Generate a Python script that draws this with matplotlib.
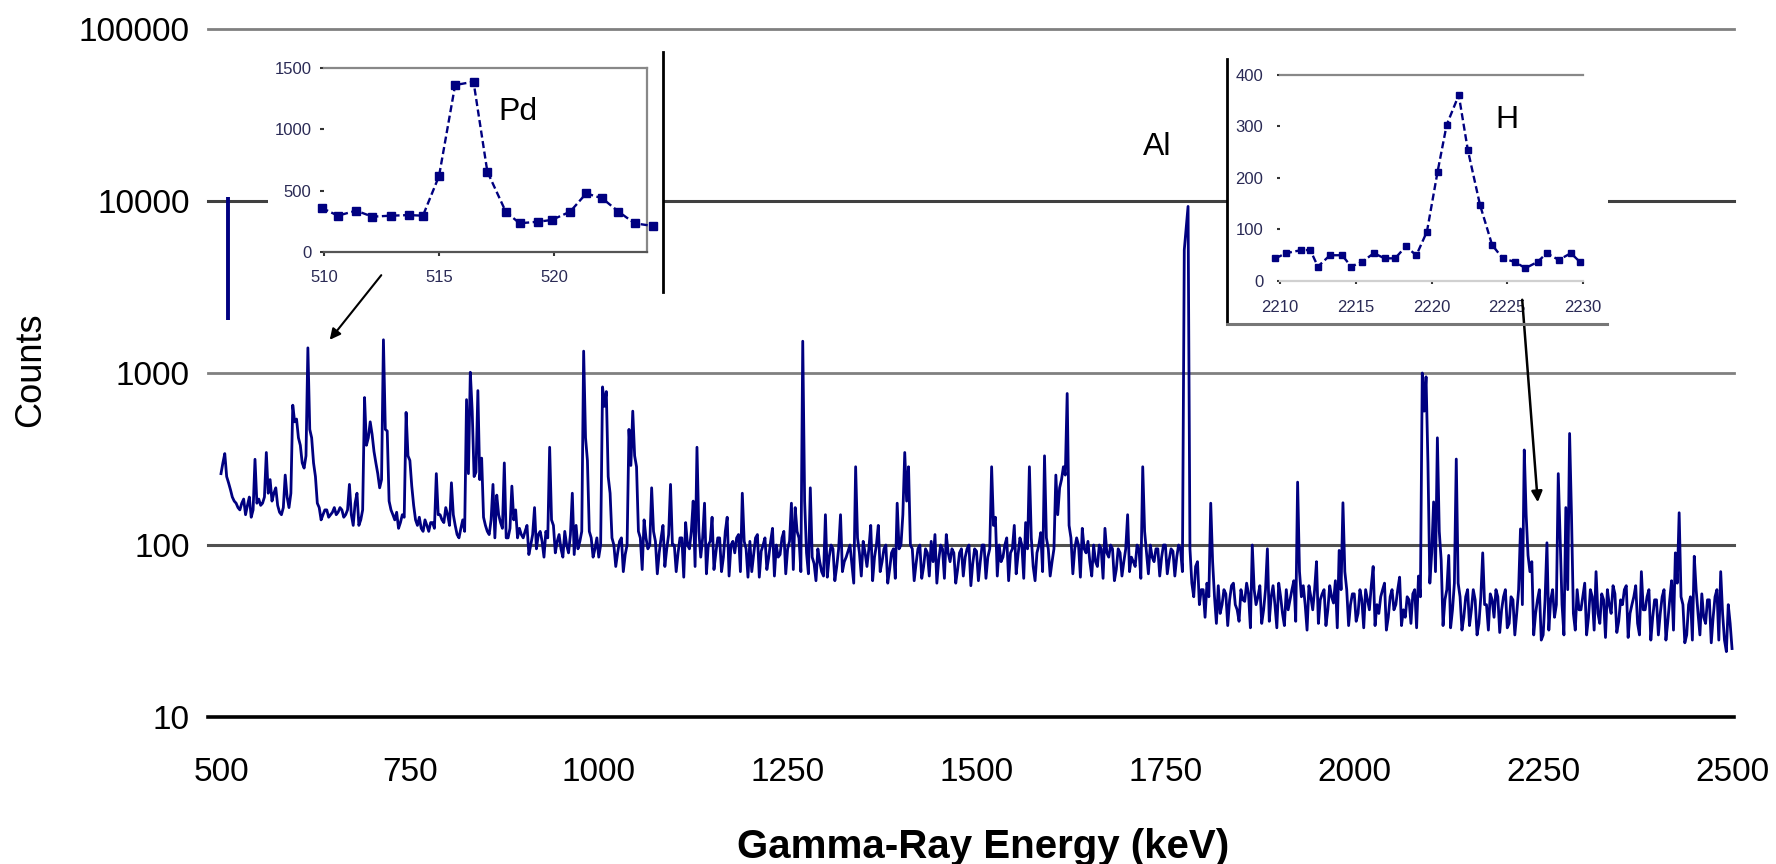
import numpy as np
import matplotlib
matplotlib.use('Agg')
import matplotlib.pyplot as plt
from matplotlib.lines import Line2D
from matplotlib.patches import FancyArrowPatch

plt.rcParams['font.family'] = ['Liberation Sans', 'DejaVu Sans']

# ---------------- data ----------------
# main spectrum: counts on a 5 keV grid starting at 500 keV (one list per 100 keV)
energy_start = 500
energy_step = 5
c500 = [260, 340, 230, 190, 175, 160, 185, 170, 145, 315, 185, 175, 345, 240, 200, 170, 150, 255, 165, 650]
c600 = [540, 380, 280, 1400, 420, 250, 165, 150, 160, 150, 165, 155, 160, 150, 225, 130, 200, 140, 720, 420]
c700 = [440, 300, 215, 1560, 460, 160, 140, 125, 150, 590, 310, 170, 130, 125, 140, 120, 135, 260, 150, 135]
c800 = [150, 230, 130, 110, 140, 700, 1010, 250, 790, 320, 130, 115, 225, 195, 135, 300, 110, 220, 160, 125]
c900 = [110, 130, 100, 165, 115, 105, 120, 370, 130, 105, 95, 120, 90, 200, 130, 105, 1340, 310, 110, 95]
c1000 = [85, 830, 780, 200, 100, 90, 110, 88, 470, 600, 285, 110, 140, 95, 215, 105, 90, 130, 95, 225]
c1100 = [100, 90, 110, 135, 95, 180, 370, 85, 175, 100, 145, 90, 110, 85, 145, 100, 90, 115, 200, 95]
c1200 = [105, 88, 115, 92, 110, 85, 125, 100, 88, 120, 95, 175, 165, 110, 1530, 90, 215, 78, 95, 70]
c1300 = [150, 85, 95, 75, 150, 80, 92, 78, 285, 90, 105, 75, 130, 85, 130, 80, 100, 72, 95, 175]
c1400 = [100, 345, 285, 95, 78, 100, 75, 90, 105, 115, 82, 95, 115, 80, 90, 72, 95, 85, 100, 78]
c1500 = [92, 80, 100, 85, 285, 145, 100, 85, 110, 90, 130, 88, 100, 135, 285, 75, 90, 118, 330, 95]
c1600 = [80, 255, 215, 285, 760, 110, 95, 100, 125, 90, 80, 100, 75, 95, 125, 85, 95, 72, 90, 80]
c1700 = [150, 85, 75, 95, 285, 90, 100, 80, 95, 85, 100, 82, 92, 85, 95, 5200, 9300, 60, 75, 45]
c1800 = [55, 60, 175, 50, 58, 45, 52, 48, 60, 42, 55, 47, 52, 100, 45, 58, 42, 95, 50, 45]
c1900 = [60, 40, 55, 48, 62, 232, 50, 45, 58, 42, 80, 48, 55, 42, 50, 62, 93, 176, 55, 45]
c2000 = [52, 40, 48, 55, 42, 75, 45, 50, 60, 38, 55, 45, 65, 42, 50, 35, 55, 66, 1000, 950]
c2100 = [60, 178, 420, 82, 48, 87, 42, 316, 50, 38, 55, 42, 48, 35, 90, 45, 52, 38, 50, 42]
c2200 = [55, 35, 48, 40, 124, 357, 87, 80, 40, 55, 30, 103, 48, 38, 260, 45, 165, 445, 40, 55]
c2300 = [42, 60, 38, 50, 70, 35, 48, 55, 40, 52, 36, 45, 58, 40, 50, 35, 70, 42, 55, 38]
c2400 = [48, 40, 55, 36, 62, 90, 154, 45, 30, 50, 86, 40, 52, 35, 48, 38, 55, 70, 28, 45]
c2500 = [25]

# the channels in between (502.5 keV + 5 keV steps)
mid_start = 502.5
m500 = [300, 250, 210, 180, 165, 175, 150, 190, 160, 175, 170, 190, 200, 180, 215, 155, 165, 190, 200, 520]
m600 = [420, 300, 330, 470, 300, 175, 140, 160, 145, 155, 150, 165, 145, 160, 150, 175, 130, 160, 380, 520]
m700 = [350, 260, 240, 470, 180, 150, 155, 135, 145, 330, 220, 140, 145, 120, 130, 135, 125, 150, 140, 165]
m800 = [130, 150, 115, 125, 120, 260, 600, 265, 240, 145, 120, 140, 110, 150, 125, 110, 125, 140, 110, 115]
m900 = [120, 88, 115, 95, 120, 85, 110, 140, 90, 115, 85, 100, 115, 88, 95, 120, 420, 120, 85, 110]
m1000 = [100, 640, 250, 110, 75, 105, 70, 100, 290, 330, 120, 72, 110, 100, 120, 68, 110, 75, 115, 100]
m1100 = [70, 110, 65, 100, 120, 75, 120, 110, 68, 105, 72, 110, 70, 120, 66, 105, 110, 70, 105, 65]
m1200 = [70, 110, 65, 100, 72, 105, 66, 85, 110, 68, 105, 72, 120, 70, 180, 68, 85, 62, 80, 66]
m1300 = [65, 100, 62, 95, 70, 85, 100, 60, 110, 66, 90, 95, 62, 100, 70, 95, 60, 90, 64, 95]
m1400 = [150, 180, 100, 62, 95, 64, 95, 66, 80, 60, 100, 64, 90, 95, 60, 90, 66, 95, 58, 95]
m1500 = [62, 100, 64, 95, 130, 66, 80, 100, 62, 95, 68, 110, 64, 95, 110, 62, 100, 70, 110, 66]
m1600 = [95, 150, 240, 255, 130, 68, 110, 65, 95, 105, 66, 80, 100, 64, 90, 100, 62, 95, 66, 95]
m1700 = [70, 80, 100, 64, 120, 68, 85, 95, 66, 100, 68, 95, 66, 100, 70, 7000, 95, 50, 80, 55]
m1800 = [38, 50, 80, 35, 40, 55, 34, 58, 45, 36, 48, 60, 33, 55, 50, 35, 55, 36, 58, 33]
m1900 = [50, 34, 42, 55, 36, 70, 58, 32, 50, 55, 35, 52, 34, 58, 46, 33, 55, 70, 34, 52]
m2000 = [36, 55, 33, 48, 58, 34, 40, 55, 32, 50, 42, 55, 34, 38, 48, 52, 33, 50, 600, 300]
m2100 = [90, 70, 120, 34, 55, 33, 60, 60, 32, 50, 34, 55, 30, 50, 45, 32, 48, 55, 31, 50]
m2200 = [33, 50, 30, 55, 45, 150, 70, 30, 48, 28, 48, 32, 55, 45, 110, 30, 55, 150, 32, 42]
m2300 = [50, 30, 55, 32, 40, 52, 29, 45, 58, 31, 48, 55, 29, 45, 58, 30, 42, 50, 28, 48]
m2400 = [30, 50, 28, 48, 32, 60, 50, 27, 45, 28, 55, 30, 38, 48, 27, 50, 28, 40, 24, 35]

# 511 keV annihilation line (drawn as its own stroke)
annih_E = [509, 509]
annih_c = [2040, 10500]

x_ticks = [500, 750, 1000, 1250, 1500, 1750, 2000, 2250, 2500]
y_ticks = [10, 100, 1000, 10000, 100000]
y_tick_labels = ['10', '100', '1000', '10000', '100000']

# Pd inset
pd_E = [509.9, 510.6, 511.4, 512.1, 512.9, 513.7, 514.3, 515.0, 515.7, 516.5, 517.1,
        517.9, 518.5, 519.3, 519.9, 520.7, 521.4, 522.1, 522.8, 523.5, 524.3]
pd_c = [360, 296, 337, 288, 296, 301, 296, 619, 1361, 1388, 655,
        329, 234, 247, 261, 329, 478, 437, 329, 234, 212]
pd_xticks = [510, 515, 520]
pd_yticks = [0, 500, 1000, 1500]

# H inset
h_E = [2209.7, 2210.4, 2211.4, 2212.0, 2212.5, 2213.3, 2214.1, 2214.7, 2215.4, 2216.2,
       2216.9, 2217.6, 2218.3, 2219.0, 2219.7, 2220.4, 2221.0, 2221.8, 2222.4, 2223.2,
       2224.0, 2224.7, 2225.5, 2226.2, 2227.0, 2227.6, 2228.4, 2229.2, 2229.8]
h_c = [44, 54, 60, 60, 28, 50, 50, 28, 37, 54,
       44, 44, 67, 50, 96, 212, 303, 361, 254, 148,
       70, 44, 37, 25, 37, 54, 41, 54, 37]
h_xticks = [2210, 2215, 2220, 2225, 2230]
h_yticks = [0, 100, 200, 300, 400]

grid_counts = np.array(c500 + c600 + c700 + c800 + c900 + c1000 + c1100 + c1200 + c1300 + c1400 +
                       c1500 + c1600 + c1700 + c1800 + c1900 + c2000 + c2100 + c2200 + c2300 +
                       c2400 + c2500, dtype=float)
mid_counts = np.array(m500 + m600 + m700 + m800 + m900 + m1000 + m1100 + m1200 + m1300 + m1400 +
                      m1500 + m1600 + m1700 + m1800 + m1900 + m2000 + m2100 + m2200 + m2300 +
                      m2400, dtype=float)
grid_E = energy_start + energy_step * np.arange(len(grid_counts))
mid_E = mid_start + energy_step * np.arange(len(mid_counts))
energy = np.concatenate([grid_E, mid_E])
counts = np.concatenate([grid_counts, mid_counts])
order = np.argsort(energy)
energy, counts = energy[order], counts[order]

# ---------------- figure ----------------
W, H = 1776, 864
fig = plt.figure(figsize=(W / 100, H / 100), dpi=100)


def rect(x0, y0, x1, y1):
    return [x0 / W, 1 - y1 / H, (x1 - x0) / W, (y1 - y0) / H]


navy = '#000080'

ax = fig.add_axes(rect(208, 29, 1734, 717))
ax.set_yscale('log')
ax.set_xlim(482.8, 2502.6)
ax.set_ylim(10, 100000)
for s in ax.spines.values():
    s.set_visible(False)
grid_colors = ['#000000', '#505050', '#808080', '#404040', '#808080']
grid_lw = [2.6, 2.2, 2.0, 2.2, 2.0]
for yv, gc, lw in zip(y_ticks, grid_colors, grid_lw):
    ax.axhline(yv, color=gc, lw=lw, zorder=1, clip_on=False)
ax.plot(energy, counts, color=navy, lw=2.0, zorder=3)
ax.plot(annih_E, annih_c, color=navy, lw=2.8, zorder=3, solid_capstyle='butt')
ax.set_xticks(x_ticks)
ax.set_xticklabels([str(v) for v in x_ticks])
ax.set_yticks(y_ticks)
ax.set_yticklabels(y_tick_labels)
ax.yaxis.set_minor_locator(matplotlib.ticker.NullLocator())
ax.tick_params(axis='x', length=0, pad=29, labelsize=24)
ax.tick_params(axis='y', length=0, pad=13, labelsize=24)

fig.text(31 / W, 1 - 370 / H, 'Counts', rotation=90, ha='center', va='center', fontsize=26)
fig.text(983 / W, 1 - 847 / H, 'Gamma-Ray Energy (keV)', ha='center', va='center',
         fontsize=29, fontweight='bold')

# ---------------- Pd inset ----------------
bg1 = fig.add_axes(rect(268, 50, 663, 292))
bg1.set_facecolor('white')
bg1.set_xticks([]); bg1.set_yticks([])
for s in bg1.spines.values():
    s.set_visible(False)

in1 = fig.add_axes(rect(324, 68, 647, 252))
in1.set_facecolor('none')
in1.set_xlim(510, 524.04)
in1.set_ylim(0, 1500)
in1.spines['left'].set_visible(False)
in1.spines['top'].set_color('#888888'); in1.spines['top'].set_linewidth(1.6)
in1.spines['right'].set_color('#888888'); in1.spines['right'].set_linewidth(1.6)
in1.spines['bottom'].set_color('#555555'); in1.spines['bottom'].set_linewidth(1.6)
in1.plot(pd_E, pd_c, color=navy, lw=1.7, ls=(0, (3, 1.5)), marker='s', ms=6,
         clip_on=False, zorder=3)
in1.set_xticks(pd_xticks)
in1.set_yticks(pd_yticks)
in1.tick_params(axis='both', labelsize=12, labelcolor='#2a2a55', color='#333333',
                length=3, width=1.5)
in1.tick_params(axis='x', pad=10)
in1.tick_params(axis='y', pad=6)

# ---------------- H inset ----------------
bg2 = fig.add_axes(rect(1227, 57, 1608, 325))
bg2.set_facecolor('white')
bg2.set_xticks([]); bg2.set_yticks([])
for s in bg2.spines.values():
    s.set_visible(False)

in2 = fig.add_axes(rect(1280, 75, 1583, 281))
in2.set_facecolor('none')
in2.set_xlim(2210, 2230)
in2.set_ylim(0, 400)
in2.spines['left'].set_visible(False)
in2.spines['right'].set_visible(False)
in2.spines['top'].set_color('#888888'); in2.spines['top'].set_linewidth(1.6)
in2.spines['bottom'].set_color('#d0d0d0'); in2.spines['bottom'].set_linewidth(1.6)
in2.plot(h_E, h_c, color=navy, lw=1.7, ls=(0, (3, 1.5)), marker='s', ms=5,
         clip_on=False, zorder=3)
in2.set_xticks(h_xticks)
in2.set_yticks(h_yticks)
in2.tick_params(axis='both', labelsize=12, labelcolor='#2a2a55', color='#333333',
                length=2, width=1.5)
in2.tick_params(axis='x', pad=12)
in2.tick_params(axis='y', pad=10)

# borders of the inset boxes (figure-level, drawn on top)
fig.add_artist(Line2D([663 / W, 663 / W], [1 - 52 / H, 1 - 292 / H], color='black', lw=2.0))
fig.add_artist(Line2D([1227 / W, 1227 / W], [1 - 59 / H, 1 - 322 / H], color='black', lw=2.0))
fig.add_artist(Line2D([1227 / W, 1607 / W], [1 - 324 / H, 1 - 324 / H], color='#777777', lw=2.2))

# labels
fig.text(518 / W, 1 - 112 / H, 'Pd', ha='center', va='center', fontsize=23)
fig.text(1507 / W, 1 - 120 / H, 'H', ha='center', va='center', fontsize=23)
fig.text(1157 / W, 1 - 147 / H, 'Al', ha='center', va='center', fontsize=23)

# arrows
a1 = FancyArrowPatch((383 / W, 1 - 273 / H), (328 / W, 1 - 342 / H), transform=fig.transFigure,
                     arrowstyle='-|>', mutation_scale=16, color='black', lw=1.5)
a2 = FancyArrowPatch((1522 / W, 1 - 297 / H), (1538 / W, 1 - 505 / H), transform=fig.transFigure,
                     arrowstyle='-|>', mutation_scale=16, color='black', lw=1.8)
fig.add_artist(a1)
fig.add_artist(a2)

fig.savefig('out.png', dpi=100)
